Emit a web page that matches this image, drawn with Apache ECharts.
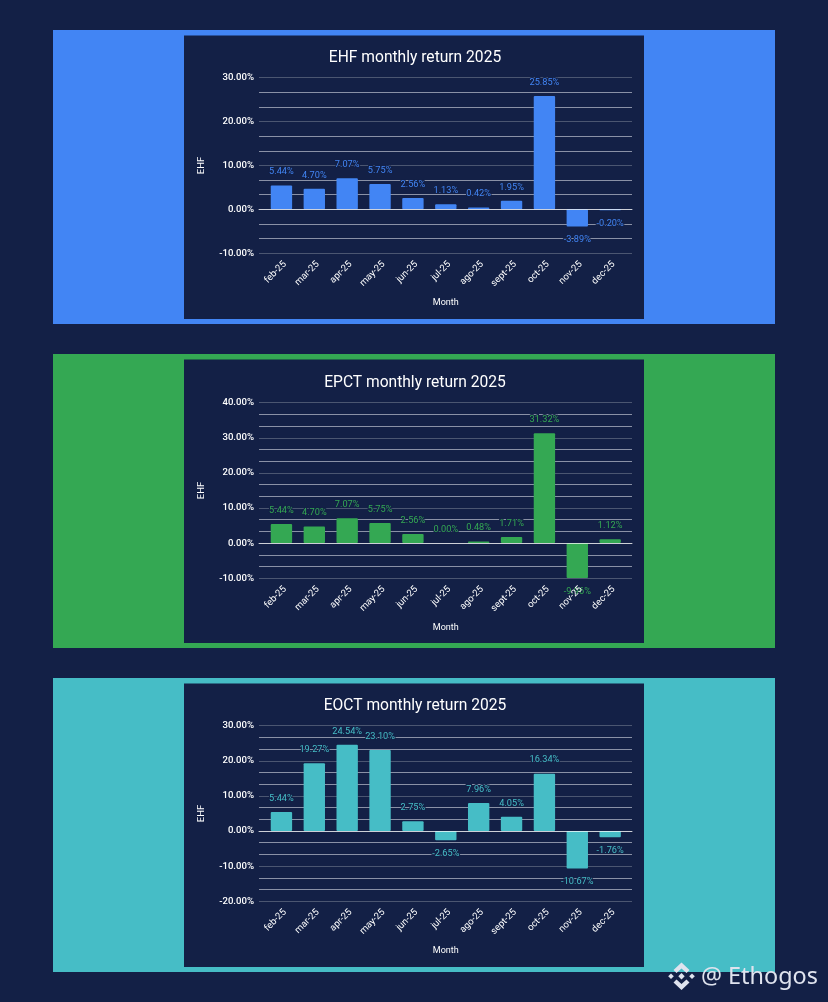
<!DOCTYPE html>
<html><head><meta charset="utf-8">
<style>html,body{margin:0;padding:0;background:#132046}#c{width:828px;height:1002px}</style>
<script src="https://cdn.jsdelivr.net/npm/echarts@6/dist/echarts.min.js"></script>
</head><body><div id="c"></div>
<script>
const months = ['feb-25','mar-25','apr-25','may-25','jun-25','jul-25','ago-25','sept-25','oct-25','nov-25','dec-25'];
const ehfValues = [5.44,4.70,7.07,5.75,2.56,1.13,0.42,1.95,25.85,-3.89,-0.20];
const epctValues = [5.44,4.70,7.07,5.75,2.56,0.00,0.48,1.71,31.32,-9.96,1.12];
const eoctValues = [5.44,19.27,24.54,23.10,2.75,-2.65,7.96,4.05,16.34,-10.67,-1.76];
const titles = ['EHF monthly return 2025','EPCT monthly return 2025','EOCT monthly return 2025'];
const colors = ['#4285f4','#34a853','#46bdc6'];
const ranges = [[-10,30],[-10,40],[-20,30]];
const values = [ehfValues,epctValues,eoctValues];
const panelTops = [30,354,678];
const plotTops = [77.7,402.7,725.7];
const navy = '#132046';
const FONT = 'Roboto, "Liberation Sans", sans-serif';

const grids=[],xAxes=[],yAxes=[],series=[],title=[],graphic=[];
values.forEach((vals,i)=>{
  const top=plotTops[i], h=175.5, a=i*2, b=i*2+1;
  graphic.push({type:'rect',silent:true,z:-10,shape:{x:53,y:panelTops[i],width:722,height:294},style:{fill:colors[i]}});
  graphic.push({type:'rect',silent:true,z:-9,shape:{x:184,y:panelTops[i]+5.5,width:460,height:283.5},style:{fill:navy}});
  title.push({text:titles[i],left:410,top:top-32.5,textAlign:'center',
    textStyle:{color:'#fff',fontSize:15.6,fontWeight:'normal',fontFamily:FONT}});
  grids.push({left:259,width:373,top,height:h});
  grids.push({left:265,width:361.6,top,height:h});
  xAxes.push({type:'value',gridIndex:a,min:0,max:1,show:true,z:3,
    axisLine:{show:true,onZero:true,lineStyle:{color:'rgba(255,255,255,0.72)',width:1}},
    axisTick:{show:false},axisLabel:{show:false},splitLine:{show:false}});
  xAxes.push({type:'category',gridIndex:b,data:months,position:'bottom',z:4,
    axisLine:{show:false,onZero:false},axisTick:{show:false},
    axisLabel:{color:'#fff',fontSize:9.5,fontFamily:FONT,rotate:45,margin:6,interval:0,verticalAlign:'top'},
    name:'Month',nameLocation:'middle',nameGap:45,
    nameTextStyle:{color:'#fff',fontSize:9,fontFamily:FONT}});
  yAxes.push({type:'value',gridIndex:a,min:ranges[i][0],max:ranges[i][1],interval:10,
    axisLine:{show:false},axisTick:{show:false},
    axisLabel:{color:'#fff',fontSize:9.6,fontFamily:FONT,fontWeight:500,margin:5,formatter:v=>v.toFixed(2)+'%'},
    splitLine:{show:true,lineStyle:{color:'#4b5671',width:1}},
    minorTick:{show:false,splitNumber:3},
    minorSplitLine:{show:true,lineStyle:{color:'#8a91a6',width:1}},
    name:'EHF',nameLocation:'middle',nameGap:52,nameRotate:90,
    nameTextStyle:{color:'#fff',fontSize:9.5,fontFamily:FONT}});
  yAxes.push({type:'value',gridIndex:b,min:ranges[i][0],max:ranges[i][1],interval:10,show:false,splitLine:{show:false}});
  series.push({type:'bar',xAxisIndex:b,yAxisIndex:b,
    data:vals.map(v=>v===0?{value:v,label:{position:'top'}}:v),barWidth:'65%',
    itemStyle:{color:colors[i],borderRadius:1},
    label:{show:true,position:'outside',distance:9,color:colors[i],fontSize:9.2,fontFamily:FONT,
      textBorderColor:navy,textBorderWidth:2,
      formatter:p=>p.value.toFixed(2)+'%'}});
});
// watermark
const wm='#dfe3ee';
graphic.push({type:'text',silent:true,z:20,style:{x:701,y:977,text:'@ Ethogos',fill:wm,
  font:'23.4px "Noto Sans", sans-serif',textVerticalAlign:'middle'}});
[
 [[681.5,962.5],[689.5,970],[686.5,973],[681.5,968.5],[676.5,973],[673.5,970]],
 [[681.5,990],[689.5,982.5],[686.5,979.5],[681.5,984],[676.5,979.5],[673.5,982.5]],
 [[681.5,973],[684.7,976.2],[681.5,979.4],[678.3,976.2]],
 [[671,973.4],[673.8,976.2],[671,979],[668.2,976.2]],
 [[692,973.4],[694.8,976.2],[692,979],[689.2,976.2]]
].forEach(points=>graphic.push({type:'polygon',silent:true,z:20,shape:{points},style:{fill:wm}}));

const chart=echarts.init(document.getElementById('c'),null,{renderer:'canvas'});
chart.setOption({animation:false,backgroundColor:navy,title,grid:grids,xAxis:xAxes,yAxis:yAxes,series,graphic});
</script></body></html>
